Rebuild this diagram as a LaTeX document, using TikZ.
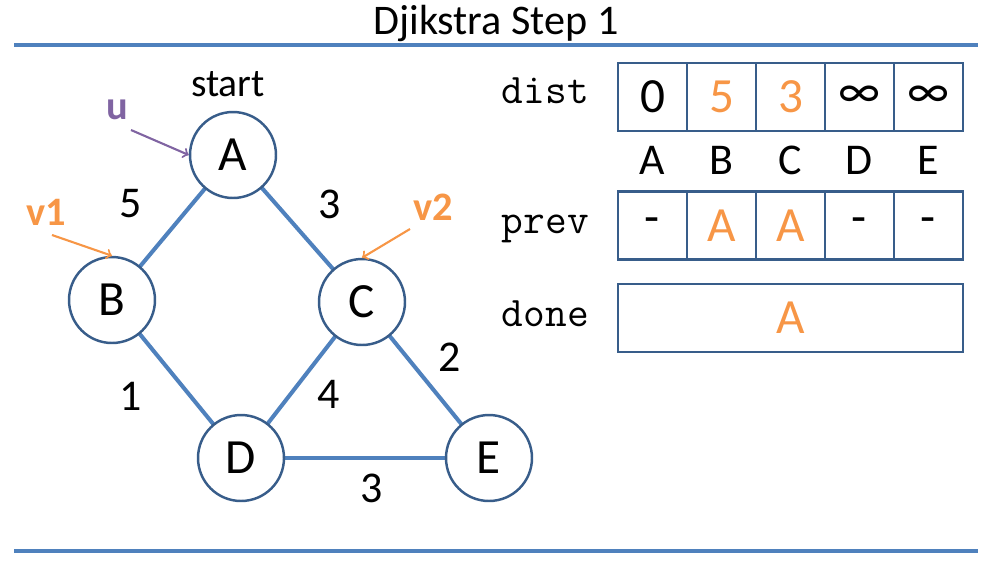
\documentclass[tikz,border=0pt]{standalone}
\usepackage{fontspec}
\setmainfont{Carlito}
\usetikzlibrary{positioning}
\definecolor{edgeBlue}{RGB}{79,129,189}
\definecolor{nodeBlue}{RGB}{56,93,138}
\definecolor{hlOrange}{RGB}{247,150,70}
\definecolor{hlPurple}{RGB}{128,100,162}
\tikzset{
  vertex/.style={circle, draw=nodeBlue, line width=1.4pt, fill=white, minimum size=1.72cm, inner sep=0pt, font=\fontsize{28}{28}\selectfont},
  edge/.style={draw=edgeBlue, line width=2.3pt},
  weight/.style={font=\fontsize{25}{25}\selectfont},
  cell/.style={draw=nodeBlue, line width=1.4pt, outer sep=0pt, minimum width=1.38cm, minimum height=1.36cm, inner sep=0pt, font=\fontsize{28}{28}\selectfont},
  rowlabel/.style={anchor=base east, font=\ttfamily\fontsize{24}{24}\selectfont},
  pointer/.style={->, line width=1.2pt},
  tag/.style={font=\bfseries\fontsize{23}{23}\selectfont},
}

\begin{document}
\begin{tikzpicture}[x=0.02cm, y=-0.02cm]
        \useasboundingbox (0,0) rectangle (991,566);
        % Title and rules
        \node[font=\fontsize{24}{24}\selectfont] (title) at (496,23) {Djikstra Step 1};
        \draw[edgeBlue, line width=2.3pt] (14,45) -- (978,45);
        \draw[edgeBlue, line width=2.3pt] (14,551) -- (978,551);

        % Edges first, vertices on top
        \coordinate (pA) at (233,155);
        \coordinate (pB) at (112,300);
        \coordinate (pC) at (362,302);
        \coordinate (pD) at (241,458);
        \coordinate (pE) at (489,458);
        \draw[edge] (pA) -- (pB);
        \draw[edge] (pA) -- (pC);
        \draw[edge] (pB) -- (pD);
        \draw[edge] (pC) -- (pD);
        \draw[edge] (pC) -- (pE);
        \draw[edge] (pD) -- (pE);
        \node[vertex] (A) at (pA) {A};
        \node[vertex] (B) at (pB) {B};
        \node[vertex] (C) at (pC) {C};
        \node[vertex] (D) at (pD) {D};
        \node[vertex] (E) at (pE) {E};

        % Edge weights
        \node[weight] (wAB) at (131,204) {5};
        \node[weight] (wAC) at (330,204) {3};
        \node[weight] (wBD) at (131,396) {1};
        \node[weight] (wCD) at (329,394) {4};
        \node[weight] (wCE) at (450,357) {2};
        \node[weight] (wDE) at (372,488) {3};

        % Start mark and pointers
        \node[font=\fontsize{22.5}{22.5}\selectfont] (start) at (228,84) {start};
        \node[tag, hlPurple] (ulbl) at (117,110) {u};
        \coordinate (utail) at (131,130);
        \draw[pointer, hlPurple] (utail) -- (A.west);
        \node[tag, hlOrange] (vonelbl) at (46,212) {v1};
        \coordinate (vonetail) at (52,235);
        \draw[pointer, hlOrange] (vonetail) -- (B.north);
        \node[tag, hlOrange] (vtwolbl) at (433,207) {v2};
        \coordinate (vtwotail) at (410,229);
        \draw[pointer, hlOrange] (vtwotail) -- (C.north);

        % Table: dist row
        \node[rowlabel] (distlbl) at (595,103) {dist};
        \node[cell] (d1) at (652.5,97) {0};
        \node[cell, right=0pt of d1, text=hlOrange] (d2) {5};
        \node[cell, right=0pt of d2, text=hlOrange] (d3) {3};
        \node[cell, right=0pt of d3] (d4) {∞};
        \node[cell, right=0pt of d4] (d5) {∞};
        % column letters
        \foreach \c/\l in {1/A,2/B,3/C,4/D,5/E}
          \node[font=\fontsize{25}{25}\selectfont] (col\c) at (d\c |- 0,160) {\l};

        % prev row
        \node[rowlabel] (prevlbl) at (595,233) {prev};
        \node[cell] (p1) at (652.5,225.5) {-};
        \node[cell, right=0pt of p1, text=hlOrange] (p2) {A};
        \node[cell, right=0pt of p2, text=hlOrange] (p3) {A};
        \node[cell, right=0pt of p3] (p4) {-};
        \node[cell, right=0pt of p4] (p5) {-};

        % done row
        \node[rowlabel] (donelbl) at (595,326) {done};
        \node[cell, minimum width=6.9cm, text=hlOrange] (done) at (790.5,318) {A};
    \end{tikzpicture}
\end{document}
